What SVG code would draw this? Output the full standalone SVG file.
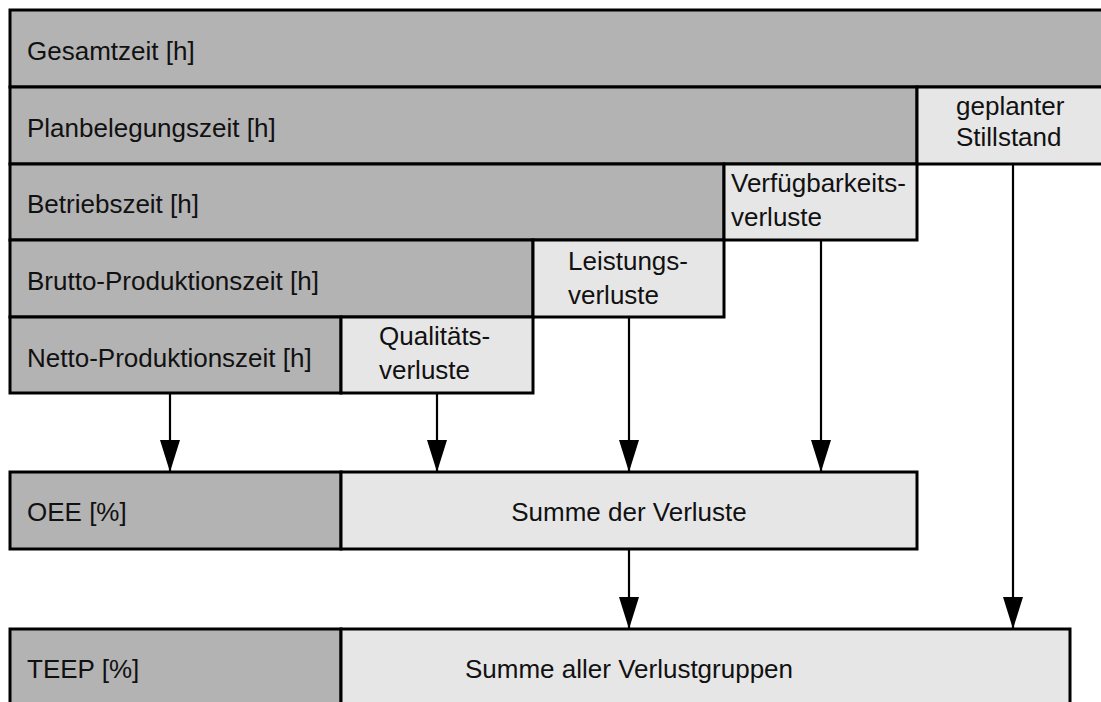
<svg xmlns="http://www.w3.org/2000/svg" width="1101" height="702" viewBox="0 0 1101 702">
<style>
.d{fill:#b3b3b3;stroke:#000;stroke-width:3}
.l{fill:#e6e6e6;stroke:#000;stroke-width:3}
text{font-family:"Liberation Sans",Arial,sans-serif;font-size:26px;fill:#111}
.c{text-anchor:middle}
.conn line{stroke:#000;stroke-width:2.2;marker-end:url(#ah)}
</style>
<defs>
<marker id="ah" markerUnits="userSpaceOnUse" markerWidth="32" markerHeight="20" viewBox="0 0 32 20" refX="32" refY="10" orient="auto">
<path d="M0,0 L32,10 L0,20 Z" fill="#000"/>
</marker>
</defs>
<rect width="1101" height="702" fill="#fff"/>
<g id="gesamtzeit"><rect class="d" x="10" y="10" width="1100" height="77"/><text x="27" y="60">Gesamtzeit [h]</text></g>
<g id="planbelegungszeit"><rect class="d" x="10" y="87" width="907" height="77"/><text x="27" y="137">Planbelegungszeit [h]</text></g>
<g id="stillstand"><rect class="l" x="917" y="87" width="193" height="77"/><text x="956" y="115">geplanter</text><text x="956" y="146">Stillstand</text></g>
<g id="betriebszeit"><rect class="d" x="10" y="164" width="714" height="76"/><text x="27" y="213">Betriebszeit [h]</text></g>
<g id="verfuegbarkeit"><rect class="l" x="724" y="164" width="193" height="76"/><text x="731" y="192">Verfügbarkeits-</text><text x="731" y="226">verluste</text></g>
<g id="brutto"><rect class="d" x="10" y="240" width="523" height="77"/><text x="27" y="290">Brutto-Produktionszeit [h]</text></g>
<g id="leistung"><rect class="l" x="533" y="240" width="191" height="77"/><text x="568" y="270">Leistungs-</text><text x="568" y="304">verluste</text></g>
<g id="netto"><rect class="d" x="10" y="317" width="331" height="76"/><text x="27" y="367">Netto-Produktionszeit [h]</text></g>
<g id="qualitaet"><rect class="l" x="341" y="317" width="192" height="76"/><text x="379" y="345">Qualitäts-</text><text x="379" y="379">verluste</text></g>
<g id="oee"><rect class="d" x="10" y="472" width="331" height="77"/><text x="27" y="521">OEE [%]</text></g>
<g id="summe-verluste"><rect class="l" x="341" y="472" width="576" height="77"/><text class="c" x="629" y="521">Summe der Verluste</text></g>
<g id="teep"><rect class="d" x="10" y="629" width="331" height="90"/><text x="27" y="678">TEEP [%]</text></g>
<g id="summe-verlustgruppen"><rect class="l" x="341" y="629" width="729" height="90"/><text class="c" x="629" y="678">Summe aller Verlustgruppen</text></g>
<g class="conn" id="connectors">
<line x1="170" y1="394" x2="170" y2="472"/>
<line x1="437" y1="394" x2="437" y2="472"/>
<line x1="629" y1="318" x2="629" y2="472"/>
<line x1="821" y1="241" x2="821" y2="472"/>
<line x1="1013" y1="165" x2="1013" y2="629"/>
<line x1="629" y1="550" x2="629" y2="629"/>
</g>
</svg>
